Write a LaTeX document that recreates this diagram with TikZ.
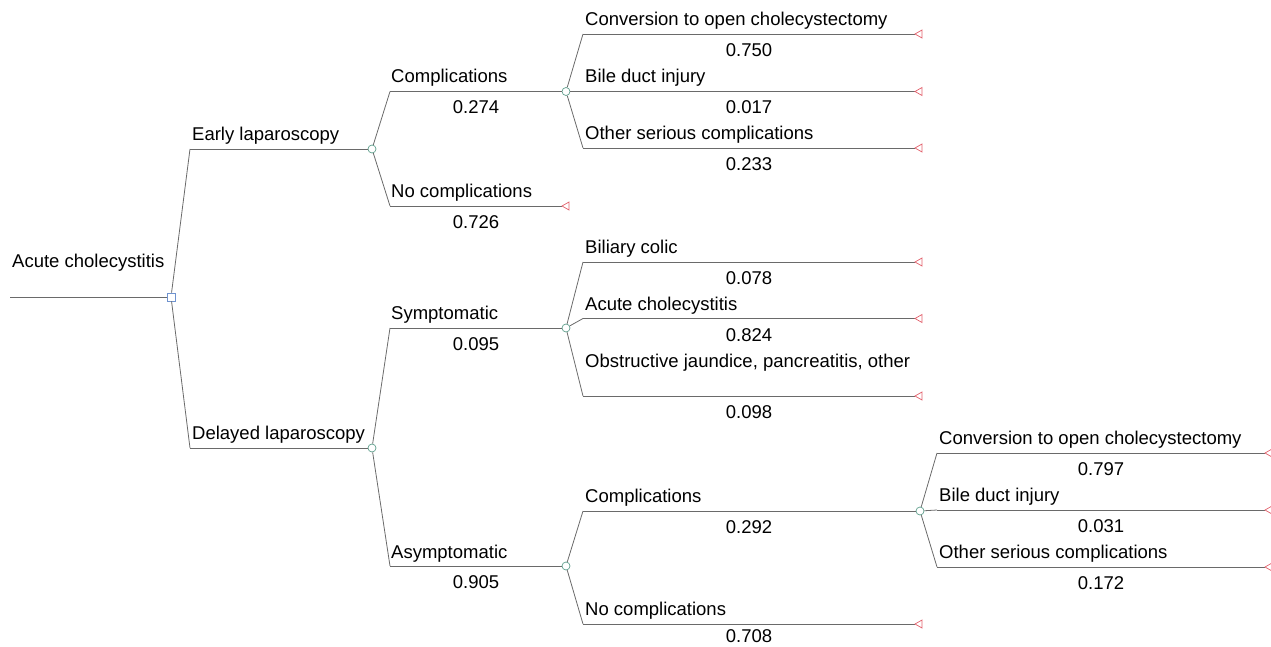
\documentclass[tikz,border=0pt]{standalone}
\usepackage{fontspec}
\setmainfont{Liberation Sans}
\definecolor{chancecol}{HTML}{5E9E8C}
\definecolor{deccol}{HTML}{6F93CF}
\definecolor{termcol}{HTML}{E2616C}
\definecolor{linecol}{HTML}{6A6A6A}
\begin{document}
\begin{tikzpicture}[x=1pt,y=-1pt,
  line/.style={draw=linecol,line width=0.8pt},
  chance/.style={circle,draw=chancecol,line width=0.7pt,fill=white,inner sep=0pt,minimum size=8pt},
  decision/.style={rectangle,draw=deccol,line width=0.7pt,fill=white,inner sep=0pt,minimum size=8pt},
  lbl/.style={anchor=base west,inner sep=0pt,font=\fontsize{18.5}{22}\selectfont},
  prob/.style={anchor=base,inner sep=0pt,font=\fontsize{18.5}{22}\selectfont},
  terminal/.pic={\draw[termcol,line width=0.7pt] (0,0) -- (7,-4) -- (7,4) -- cycle;}
]
\useasboundingbox (0,0) rectangle (1271,647);

% root
\coordinate (s0) at (10,297);
\node[decision] (d0) at (171,297) {};
\draw[line] (s0) -- (d0);
\node[lbl] (l0) at (12,267) {Acute cholecystitis};

% Early
\coordinate (sE) at (190,149);
\node[chance] (cE) at (372,149) {};
\draw[line] (d0) -- (sE);
\draw[line] (sE) -- (cE);
\node[lbl] (lE) at (192,140.5) {Early laparoscopy};

% Delayed
\coordinate (sD) at (190,448);
\node[chance] (cD) at (372,448) {};
\draw[line] (d0) -- (sD);
\draw[line] (sD) -- (cD);
\node[lbl] (lD) at (192,439.5) {Delayed laparoscopy};

% Complications 1
\coordinate (sC1) at (390,91.5);
\node[chance] (cC1) at (566,91.5) {};
\draw[line] (cE) -- (sC1);
\draw[line] (sC1) -- (cC1);
\node[lbl] (lC1) at (391,83) {Complications};
\node[prob] (pC1) at (476,113.5) {0.274};

% No complications 1
\coordinate (sN1) at (390,206);
\coordinate (tN1) at (562,206);
\draw[line] (cE) -- (sN1);
\draw[line] (sN1) -- (tN1);
\pic at (tN1) {terminal};
\node[lbl] (lN1) at (391,197.5) {No complications};
\node[prob] (pN1) at (476,228) {0.726};

% Conversion 1
\coordinate (sV1) at (583,34);
\coordinate (tV1) at (915,34);
\draw[line] (cC1) -- (sV1);
\draw[line] (sV1) -- (tV1);
\pic at (tV1) {terminal};
\node[lbl] (lV1) at (585,25.5) {Conversion to open cholecystectomy};
\node[prob] (pV1) at (749,57) {0.750};

% Bile 1
\coordinate (sB1) at (583,91.5);
\coordinate (tB1) at (915,91.5);
\draw[line] (cC1) -- (sB1);
\draw[line] (sB1) -- (tB1);
\pic at (tB1) {terminal};
\node[lbl] (lB1) at (585,83) {Bile duct injury};
\node[prob] (pB1) at (749,114) {0.017};

% Other 1
\coordinate (sO1) at (583,148);
\coordinate (tO1) at (915,148);
\draw[line] (cC1) -- (sO1);
\draw[line] (sO1) -- (tO1);
\pic at (tO1) {terminal};
\node[lbl] (lO1) at (585,139.5) {Other serious complications};
\node[prob] (pO1) at (749,170.5) {0.233};

% Symptomatic
\coordinate (sS) at (390,328);
\node[chance] (cS) at (566,328) {};
\draw[line] (cD) -- (sS);
\draw[line] (sS) -- (cS);
\node[lbl] (lS) at (391,319.5) {Symptomatic};
\node[prob] (pS) at (476,350) {0.095};

% Biliary colic
\coordinate (sBC) at (583,262);
\coordinate (tBC) at (915,262);
\draw[line] (cS) -- (sBC);
\draw[line] (sBC) -- (tBC);
\pic at (tBC) {terminal};
\node[lbl] (lBC) at (585,253.5) {Biliary colic};
\node[prob] (pBC) at (749,284.5) {0.078};

% Acute cholecystitis
\coordinate (sAC) at (583,318.5);
\coordinate (tAC) at (915,318.5);
\draw[line] (cS) -- (sAC);
\draw[line] (sAC) -- (tAC);
\pic at (tAC) {terminal};
\node[lbl] (lAC) at (585,310) {Acute cholecystitis};
\node[prob] (pAC) at (749,341) {0.824};

% Obstructive
\coordinate (sOJ) at (583,396);
\coordinate (tOJ) at (915,396);
\draw[line] (cS) -- (sOJ);
\draw[line] (sOJ) -- (tOJ);
\pic at (tOJ) {terminal};
\node[lbl] (lOJ) at (585,367) {Obstructive jaundice, pancreatitis, other};
\node[prob] (pOJ) at (749,418) {0.098};

% Asymptomatic
\coordinate (sA) at (390,566);
\node[chance] (cA) at (566,566) {};
\draw[line] (cD) -- (sA);
\draw[line] (sA) -- (cA);
\node[lbl] (lA) at (391,558.5) {Asymptomatic};
\node[prob] (pA) at (476,588) {0.905};

% Complications 2
\coordinate (sC2) at (583,511);
\node[chance] (cC2) at (920,511) {};
\draw[line] (cA) -- (sC2);
\draw[line] (sC2) -- (cC2);
\node[lbl] (lC2) at (585,502.5) {Complications};
\node[prob] (pC2) at (749,533) {0.292};

% No complications 2
\coordinate (sN2) at (583,624);
\coordinate (tN2) at (915,624);
\draw[line] (cA) -- (sN2);
\draw[line] (sN2) -- (tN2);
\pic at (tN2) {terminal};
\node[lbl] (lN2) at (585,615.5) {No complications};
\node[prob] (pN2) at (749,642.5) {0.708};

% Conversion 2
\coordinate (sV2) at (937,453);
\coordinate (tV2) at (1265,453);
\draw[line] (cC2) -- (sV2);
\draw[line] (sV2) -- (tV2);
\pic at (tV2) {terminal};
\node[lbl] (lV2) at (939,444.5) {Conversion to open cholecystectomy};
\node[prob] (pV2) at (1101,475) {0.797};

% Bile 2
\coordinate (sB2) at (937,510);
\coordinate (tB2) at (1265,510);
\draw[line] (cC2) -- (sB2);
\draw[line] (sB2) -- (tB2);
\pic at (tB2) {terminal};
\node[lbl] (lB2) at (939,501.5) {Bile duct injury};
\node[prob] (pB2) at (1101,532) {0.031};

% Other 2
\coordinate (sO2) at (937,567);
\coordinate (tO2) at (1265,567);
\draw[line] (cC2) -- (sO2);
\draw[line] (sO2) -- (tO2);
\pic at (tO2) {terminal};
\node[lbl] (lO2) at (939,558.5) {Other serious complications};
\node[prob] (pO2) at (1101,589) {0.172};
\end{tikzpicture}
\end{document}
